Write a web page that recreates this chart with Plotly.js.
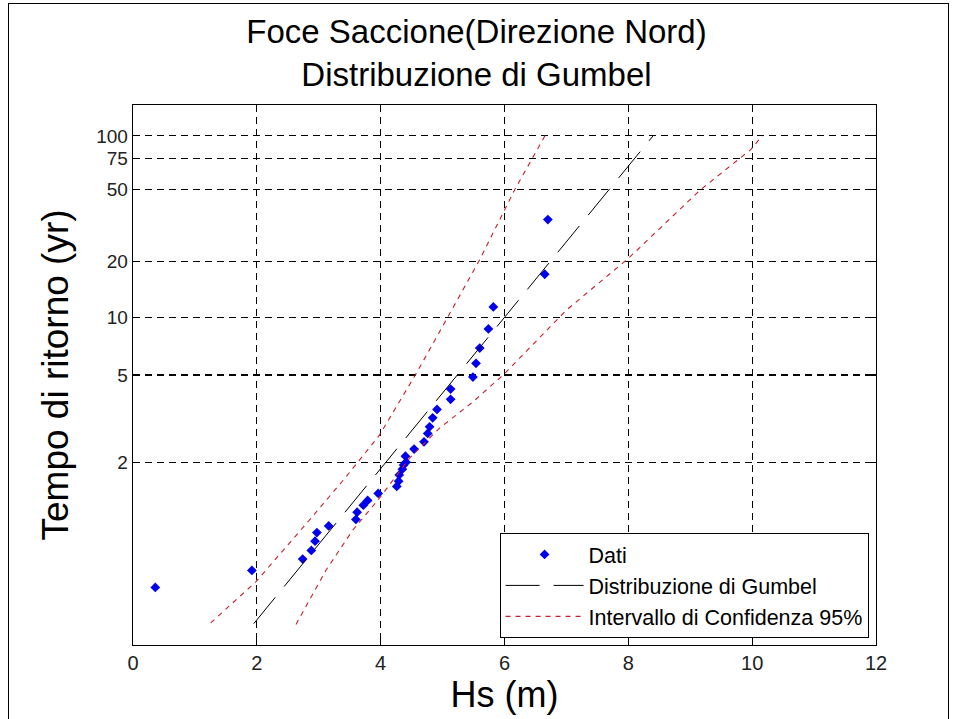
<!DOCTYPE html>
<html>
<head>
<meta charset="utf-8">
<script src="https://cdn.plot.ly/plotly-3.0.1.min.js"></script>
<style>
  html, body { margin: 0; padding: 0; background: #ffffff; }
  #wrap { position: relative; width: 953px; height: 719px; }
  #chart { position: absolute; left: 0; top: 0; width: 953px; height: 719px; }
  #frame { position: absolute; left: 8px; top: 3px; width: 939px; height: 730px;
           border: 1px solid #000; pointer-events: none; }
</style>
</head>
<body>
<div id="wrap">
  <div id="chart"></div>
  <div id="frame"></div>
</div>
<script>
// ---- Data (Hs in metres, return period T in years) ----
const hsData = [0.36, 1.92, 2.74, 2.88, 2.94, 2.97, 3.16, 3.60, 3.62, 3.72, 3.79, 3.96,
                4.26, 4.29, 4.30, 4.35, 4.37, 4.41, 4.40, 4.54, 4.70, 4.76, 4.79, 4.84,
                4.91, 5.13, 5.13, 5.49, 5.54, 5.60, 5.74, 5.82, 6.65, 6.70];
const tData  = [1.031, 1.064, 1.097, 1.129, 1.171, 1.218, 1.260, 1.306, 1.364, 1.427, 1.474, 1.550,
                1.634, 1.705, 1.795, 1.885, 1.953, 2.005, 2.118, 2.263, 2.429, 2.641, 2.826, 3.106,
                3.399, 3.793, 4.256, 4.882, 5.730, 6.871, 8.647, 11.33, 17.05, 34.1];

const gumbelHs = [1.95, 8.40];
const gumbelT  = [1.0037, 100];

const confLowHs = [1.255, 1.984, 2.847, 3.441, 3.981, 4.575, 5.087, 5.600, 6.167, 6.653];
const confLowT  = [1.0039, 1.040, 1.300, 1.766, 2.597, 5.094, 10.05, 20.51, 50.15, 100];

const confHighHs = [2.632, 3.117, 3.548, 3.981, 4.466, 4.952, 5.492, 5.977, 7.004, 8.002, 9.163, 9.973, 10.162];
const confHighT  = [1.0035, 1.0645, 1.232, 1.498, 2.079, 2.789, 3.694, 4.995, 10.93, 20.85, 49.9, 83.5, 100];

const yTickT = [2, 5, 10, 20, 50, 75, 100];
const xTickVals = [0, 2, 4, 6, 8, 10, 12];

// Gumbel probability-paper transform: reduced variate of the return period
const gumbelY = T => -Math.log(-Math.log(1 - 1 / T));

const FONT = 'Liberation Sans, Arial, Helvetica, sans-serif';
const RED = 'rgb(200,30,45)';

const traces = [
  {
    x: hsData, y: tData.map(gumbelY), type: 'scatter', mode: 'markers', name: 'Dati',
    marker: { symbol: 'diamond', size: 7.5, color: '#0000ee', line: { width: 0 } }
  },
  {
    x: gumbelHs, y: gumbelT.map(gumbelY), type: 'scatter', mode: 'lines',
    name: 'Distribuzione di Gumbel',
    line: { color: '#000000', width: 1, dash: '34px,14px' }
  },
  {
    x: confLowHs, y: confLowT.map(gumbelY), type: 'scatter', mode: 'lines',
    name: 'Intervallo di Confidenza 95%', legendgroup: 'ci',
    line: { color: RED, width: 1.1, dash: '5px,5px' }
  },
  {
    x: confHighHs, y: confHighT.map(gumbelY), type: 'scatter', mode: 'lines',
    name: 'Intervallo di Confidenza 95%', legendgroup: 'ci', showlegend: false,
    line: { color: RED, width: 1.1, dash: '5px,5px' }
  }
];

const layout = {
  width: 953, height: 719,
  margin: { l: 133, r: 77, t: 105, b: 74, pad: 0 },
  paper_bgcolor: '#ffffff', plot_bgcolor: '#ffffff',
  font: { family: FONT, color: '#000000' },
  title: {
    text: 'Foce Saccione(Direzione Nord)<br>Distribuzione di Gumbel',
    font: { family: FONT, size: 33, color: '#000000' },
    x: 0.5, xref: 'container', xanchor: 'center',
    y: 1 - 43 / 719, yref: 'container', yanchor: 'top'
  },
  xaxis: {
    range: [0, 12], tickvals: xTickVals, ticktext: xTickVals.map(String),
    showline: true, linecolor: '#000', linewidth: 1.3, mirror: 'ticks',
    ticks: 'inside', ticklen: 6, tickcolor: '#000', tickwidth: 1.2,
    showgrid: true, gridcolor: '#000', gridwidth: 1.2, griddash: '7px,5px',
    zeroline: false,
    tickfont: { family: FONT, size: 20, color: '#222' },
    title: { text: 'Hs (m)', font: { family: FONT, size: 36, color: '#000' }, standoff: 8 }
  },
  yaxis: {
    range: [-2.0, 5.0], tickvals: yTickT.map(gumbelY), ticktext: yTickT.map(String),
    showline: true, linecolor: '#000', linewidth: 1.3, mirror: 'ticks',
    ticks: 'inside', ticklen: 6, tickcolor: '#000', tickwidth: 1.2,
    showgrid: true, gridcolor: '#000', gridwidth: 1.2, griddash: '7px,5px',
    zeroline: false,
    tickfont: { family: FONT, size: 19, color: '#222' },
    title: { text: 'Tempo di ritorno (yr)', font: { family: FONT, size: 37, color: '#000' }, standoff: 16 }
  },
  showlegend: true,
  legend: {
    x: 0.99, xanchor: 'right', y: 0.013, yanchor: 'bottom',
    bgcolor: '#ffffff', bordercolor: '#000', borderwidth: 1,
    font: { family: FONT, size: 21.5, color: '#000' },
    tracegroupgap: 0, itemwidth: 78
  }
};

Plotly.newPlot('chart', traces, layout, { displayModeBar: false, staticPlot: true });
</script>
</body>
</html>
